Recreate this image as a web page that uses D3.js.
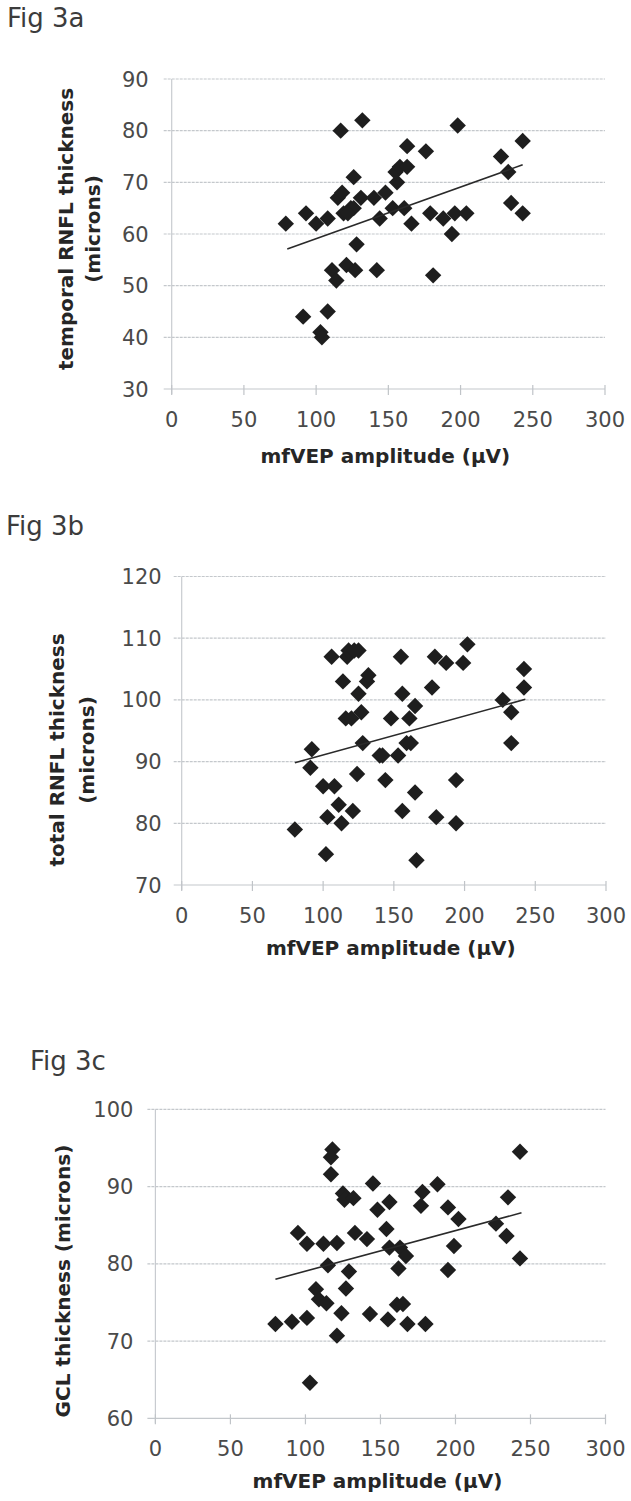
<!DOCTYPE html>
<html>
<head>
<meta charset="utf-8">
<script src="https://cdn.jsdelivr.net/npm/d3@7"></script>
<style>
  html, body { margin: 0; padding: 0; background: #ffffff; }
  svg { display: block; }
</style>
</head>
<body>
<svg id="fig" width="631" height="1501"></svg>
<script>
// ---------------- DATA ----------------
const xTicks = [0, 50, 100, 150, 200, 250, 300];
const xTitle = "mfVEP amplitude (\u00B5V)";

// Fig 3a : temporal RNFL thickness
const yTicksA = [30, 40, 50, 60, 70, 80, 90];
const ampA = [79, 93, 91, 100, 103, 104, 108, 108, 111, 114, 115, 118, 117, 119, 121, 124, 126, 126, 127, 128,
  132, 131, 140, 142, 144, 148, 156, 155, 153, 158, 163, 163, 161, 166, 176, 179, 181, 188, 196, 194,
  198, 204, 228, 233, 235, 243, 243, 122];
const thickA = [62, 64, 44, 62, 41, 40, 63, 45, 53, 51, 67, 68, 80, 64, 54, 65, 71, 65, 53, 58,
  82, 67, 67, 53, 63, 68, 70, 72, 65, 73, 77, 73, 65, 62, 76, 64, 52, 63, 64, 60,
  81, 64, 75, 72, 66, 78, 64, 64];
const trendA = [[80, 57.1], [243, 73.4]];

// Fig 3b : total RNFL thickness
const yTicksB = [70, 80, 90, 100, 110, 120];
const ampB = [80, 92, 91, 100, 108, 103, 102, 106, 111, 113, 114, 117, 118, 116, 120, 121, 124, 125, 125, 127,
  128, 131, 132, 140, 142, 144, 148, 153, 155, 156, 156, 161, 162, 165, 165, 166, 177, 179, 180, 187,
  194, 194, 199, 202, 227, 233, 233, 242, 242, 122, 159];
const thickB = [79, 92, 89, 86, 86, 81, 75, 107, 83, 80, 103, 107, 108, 97, 97, 82, 88, 101, 108, 98,
  93, 103, 104, 91, 91, 87, 97, 91, 107, 101, 82, 97, 93, 99, 85, 74, 102, 107, 81, 106,
  87, 80, 106, 109, 100, 98, 93, 105, 102, 108, 93];
const trendB = [[80, 89.8], [243, 100.1]];

// Fig 3c : GCL thickness
const yTicksC = [60, 70, 80, 90, 100];
const ampC = [80, 91, 95, 101, 101, 103, 107, 109, 112, 114, 115, 118, 117, 117, 121, 121, 124, 125, 126, 127,
  129, 132, 133, 141, 143, 145, 148, 154, 156, 156, 155, 161, 162, 163, 165, 167, 168, 177, 178, 180,
  188, 195, 195, 199, 202, 227, 234, 235, 243, 243];
const thickC = [72.2, 72.5, 84, 82.6, 73, 64.6, 76.7, 75.4, 82.6, 74.9, 79.8, 94.8, 93.8, 91.6, 82.7, 70.7, 73.6, 89.1, 88.3, 76.8,
  79, 88.5, 84, 83.2, 73.5, 90.4, 87, 84.5, 88, 82.1, 72.8, 74.7, 79.4, 82.1, 74.8, 81, 72.2, 87.5, 89.3, 72.2,
  90.3, 87.3, 79.2, 82.3, 85.8, 85.2, 83.6, 88.6, 94.5, 80.7];
const trendC = [[80, 78.0], [244, 86.6]];

// ---------------- LAYOUT ----------------
const charts = [
  { fig: "Fig 3a", figX: 7, figY: 27,
    px: [171.7, 605], py: [389, 79], yDomain: [30, 90], yTicks: yTicksA,
    xs: ampA, ys: thickA, trend: trendA,
    yTitle: ["temporal RNFL thickness", "(microns)"], yTitleX: [73, 99.5], yTitleY: 229,
    yLabGap: 23, xTitleY: 463 },
  { fig: "Fig 3b", figX: 6, figY: 535,
    px: [181.7, 606], py: [885, 576.5], yDomain: [70, 120], yTicks: yTicksB,
    xs: ampB, ys: thickB, trend: trendB,
    yTitle: ["total RNFL thickness", "(microns)"], yTitleX: [64, 94], yTitleY: 750,
    yLabGap: 20, xTitleY: 955 },
  { fig: "Fig 3c", figX: 30, figY: 1070,
    px: [155.4, 605.5], py: [1418.3, 1109.3], yDomain: [60, 100], yTicks: yTicksC,
    xs: ampC, ys: thickC, trend: trendC,
    yTitle: ["GCL thickness (microns)"], yTitleX: [70], yTitleY: 1281,
    yLabGap: 22, xTitleY: 1488 }
];

const svg = d3.select("#fig");
const FONT = "'DejaVu Sans', sans-serif";

charts.forEach(c => {
  const x = d3.scaleLinear().domain([0, 300]).range(c.px);
  const y = d3.scaleLinear().domain(c.yDomain).range(c.py);
  const g = svg.append("g");

  // figure label
  g.append("text").attr("x", c.figX).attr("y", c.figY)
    .attr("font-family", FONT).attr("font-size", 26).attr("fill", "#3c3c3c")
    .text(c.fig);

  // horizontal gridlines (with left tick stubs)
  g.append("g").selectAll("line").data(c.yTicks).join("line")
    .attr("x1", c.px[0] - 8).attr("x2", c.px[1])
    .attr("y1", d => y(d)).attr("y2", d => y(d))
    .attr("stroke", "#c4c8cc").attr("stroke-width", 1.2)
    .attr("stroke-dasharray", d => d === c.yDomain[0] ? null : "3,1");

  // y axis line
  g.append("line").attr("x1", c.px[0]).attr("x2", c.px[0])
    .attr("y1", c.py[1]).attr("y2", c.py[0] + 5)
    .attr("stroke", "#c8cbd0").attr("stroke-width", 1.2);

  // x tick marks
  g.append("g").selectAll("line").data(xTicks).join("line")
    .attr("x1", d => x(d)).attr("x2", d => x(d))
    .attr("y1", c.py[0] - 4).attr("y2", c.py[0] + 6)
    .attr("stroke", "#c0c4c8").attr("stroke-width", 1.2);

  // y tick labels
  g.append("g").selectAll("text").data(c.yTicks).join("text")
    .attr("x", c.px[0] - c.yLabGap).attr("y", d => y(d)).attr("dy", "0.36em")
    .attr("text-anchor", "end")
    .attr("font-family", FONT).attr("font-size", 21).attr("fill", "#4a4a4a")
    .text(d => d);

  // x tick labels
  g.append("g").selectAll("text").data(xTicks).join("text")
    .attr("x", d => x(d)).attr("y", c.py[0] + 38)
    .attr("text-anchor", "middle")
    .attr("font-family", FONT).attr("font-size", 21).attr("fill", "#4a4a4a")
    .text(d => d);

  // x title
  g.append("text").attr("x", (c.px[0] + c.px[1]) / 2 - 3).attr("y", c.xTitleY)
    .attr("text-anchor", "middle")
    .attr("font-family", FONT).attr("font-weight", "bold").attr("font-size", 20).attr("fill", "#262626")
    .text(xTitle);

  // y title (rotated)
  c.yTitle.forEach((t, i) => {
    g.append("text")
      .attr("transform", `translate(${c.yTitleX[i]},${c.yTitleY}) rotate(-90)`)
      .attr("text-anchor", "middle")
      .attr("font-family", FONT).attr("font-weight", "bold").attr("font-size", 20).attr("fill", "#262626")
      .text(t);
  });

  // data points (diamonds)
  const pts = c.xs.map((v, i) => [v, c.ys[i]]);
  const r = 8.2;
  g.append("g").selectAll("path").data(pts).join("path")
    .attr("transform", d => `translate(${x(d[0])},${y(d[1])})`)
    .attr("d", `M0,${-r}L${r},0L0,${r}L${-r},0Z`)
    .attr("fill", "#1e1e1e");

  // trend line
  g.append("path").datum(c.trend)
    .attr("d", d3.line().x(d => x(d[0])).y(d => y(d[1])))
    .attr("fill", "none").attr("stroke", "#2a2a2a").attr("stroke-width", 1.6);
});
</script>
</body>
</html>
